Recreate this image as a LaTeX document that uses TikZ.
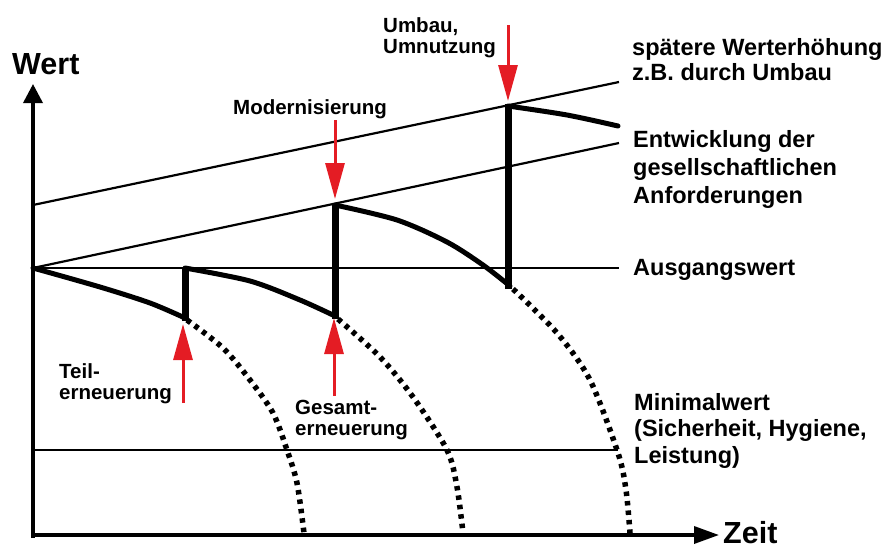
\documentclass[tikz,border=0pt]{standalone}
\usepackage{fontspec}
\setmainfont{Liberation Sans}
\usetikzlibrary{arrows.meta}
\definecolor{arrred}{RGB}{228,28,36}
\tikzset{
  thinline/.style={line width=2.2pt},
  axisline/.style={line width=3.5pt},
  valueline/.style={line width=5pt, line join=round, line cap=round},
  jumpline/.style={line width=7pt},
  decayline/.style={line width=5.5pt, dash pattern=on 4.5pt off 5pt},
  redarrow/.style={draw=arrred, line width=3pt, -{Triangle[length=36pt,width=19pt]}},
  lbl/.style={font=\bfseries\fontsize{20.5}{24}\selectfont, inner sep=0pt, anchor=base west},
  rlbl/.style={font=\bfseries\fontsize{23.5}{28}\selectfont, inner sep=0pt, anchor=base west},
  biglbl/.style={font=\bfseries\fontsize{30.5}{36}\selectfont, inner sep=0pt, anchor=base west}
}
\begin{document}
\begin{tikzpicture}[x=1pt,y=-1pt]
\useasboundingbox (0,0) rectangle (886,549);

% axes
\coordinate (ybot) at (33,538);
\coordinate (ytip) at (33,84);
\coordinate (xleft) at (31,535);
\coordinate (xtip) at (719,535);
\draw[axisline, -{Triangle[length=19pt,width=19pt]}] (ybot) -- (ytip);
\draw[axisline, -{Triangle[length=25pt,width=17pt]}] (xleft) -- (xtip);

% reference lines
\coordinate (A0) at (33,268);  \coordinate (A1) at (619,268);
\coordinate (E0) at (33,268);  \coordinate (E1) at (619,143);
\coordinate (U0) at (33,205);  \coordinate (U1) at (619,82);
\coordinate (M0) at (33,450);  \coordinate (M1) at (618,450);
\draw[thinline] (A0) -- (A1);
\draw[thinline] (E0) -- (E1);
\draw[thinline] (U0) -- (U1);
\draw[thinline] (M0) -- (M1);

% dotted decay continuations
\draw[decayline] plot[smooth] coordinates {(187,320) (223,348) (250,380) (273,413) (287,450) (297,483) (304,533)};
\draw[decayline] plot[smooth] coordinates {(338,319) (380,357) (413,397) (447,450) (457,487) (463,533)};
\draw[decayline] plot[smooth] coordinates {(513,289) (557,333) (590,380) (618,453) (626,490) (630,533)};

% value curves
\draw[valueline] plot[smooth] coordinates {(33,268) (100,287) (150,303) (185,318)};
\draw[valueline] plot[smooth] coordinates {(185,268) (250,281) (300,300) (335,316)};
\draw[valueline] plot[smooth] coordinates {(335,205) (397,220) (447,242) (483,265) (510,286)};
\draw[valueline] plot[smooth] coordinates {(508,106) (567,115) (618,126)};

% jumps
\coordinate (J1a) at (185,321); \coordinate (J1b) at (185,268);
\coordinate (J2a) at (335,319); \coordinate (J2b) at (335,204);
\coordinate (J3a) at (508,289); \coordinate (J3b) at (508,104);
\draw[jumpline] (J1a) -- (J1b);
\draw[jumpline] (J2a) -- (J2b);
\draw[jumpline] (J3a) -- (J3b);

% red arrows
\coordinate (modS) at (335,120); \coordinate (modT) at (335,199);
\coordinate (umbS) at (508,25);  \coordinate (umbT) at (508,101);
\coordinate (teiS) at (183,403); \coordinate (teiT) at (183,324);
\coordinate (gesS) at (334,396); \coordinate (gesT) at (334,318);
\draw[redarrow] (modS) -- (modT);
\draw[redarrow] (umbS) -- (umbT);
\draw[redarrow] (teiS) -- (teiT);
\draw[redarrow] (gesS) -- (gesT);

% labels
\node[biglbl] (wert) at (12,74) {Wert};
\node[biglbl] (zeit) at (723,543) {Zeit};
\node[lbl] (mod) at (233,114) {Modernisierung};
\node[lbl] (umb1) at (383,32) {Umbau,};
\node[lbl] (umb2) at (383,53) {Umnutzung};
\node[lbl] (tei1) at (59,378) {Teil-};
\node[lbl] (tei2) at (59,399) {erneuerung};
\node[lbl] (ges1) at (295,414) {Gesamt-};
\node[lbl] (ges2) at (295,435) {erneuerung};
\node[rlbl] (sp1) at (632,55) {spätere Werterhöhung};
\node[rlbl] (sp2) at (632,80) {z.B. durch Umbau};
\node[rlbl] (en1) at (633,147) {Entwicklung der};
\node[rlbl] (en2) at (633,175) {gesellschaftlichen};
\node[rlbl] (en3) at (633,203) {Anforderungen};
\node[rlbl] (aus) at (633,275) {Ausgangswert};
\node[rlbl] (min1) at (634,410) {Minimalwert};
\node[rlbl] (min2) at (634,436) {(Sicherheit, Hygiene,};
\node[rlbl] (min3) at (634,463) {Leistung)};
\end{tikzpicture}
\end{document}
